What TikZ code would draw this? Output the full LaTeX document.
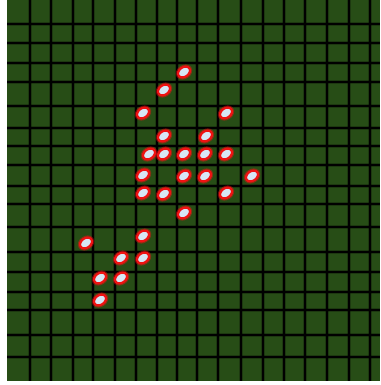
\documentclass[tikz,border=0pt]{standalone}
\usepackage{xcolor}
\definecolor{field}{RGB}{39,77,22}
\definecolor{cellred}{RGB}{240,18,18}
\definecolor{cellcore}{RGB}{215,230,245}
\usepackage{tikz}
\usetikzlibrary{shapes.geometric}
\tikzset{
  gridhalo/.style={draw=black, line width=3.2pt, opacity=0.25},
  gridcore/.style={draw=black, line width=1.3pt},
  livecell/.style={ellipse, minimum width=13pt, minimum height=9.5pt,
    inner sep=0pt, rotate=35, fill=cellcore, draw=cellred, line width=2.2pt,
    preaction={draw=cellred, line width=4.4pt, opacity=0.45}},
}

\begin{document}
\begin{tikzpicture}[x=1pt, y=-1pt]
\useasboundingbox (0,0) rectangle (380,385);
\fill[white] (0,0) rectangle (380,385);
% the board
\fill[field] (7,0) rectangle (380,381);
% grid lines (uneven, as in the scan)
\foreach \gx in {30,51,73,93,115,136,157,177,197,218,241,263,284,305,327,349,370}{
  \draw[gridhalo] (\gx,0) -- (\gx,381);
  \draw[gridcore] (\gx,0) -- (\gx,381);}
\foreach \gy in {24,43,63,82,106,128,146,165,186,204,227,252,272,292,310,335,357}{
  \draw[gridhalo] (7,\gy) -- (380,\gy);
  \draw[gridcore] (7,\gy) -- (380,\gy);}
% live cells
\node[livecell] (c1)  at (184,72)  {};
\node[livecell] (c2)  at (164,90)  {};
\node[livecell] (c3)  at (143,113) {};
\node[livecell] (c4)  at (226,113) {};
\node[livecell] (c5)  at (164,136) {};
\node[livecell] (c6)  at (206,136) {};
\node[livecell] (c7)  at (149,154) {};
\node[livecell] (c8)  at (164,154) {};
\node[livecell] (c9)  at (184,154) {};
\node[livecell] (c10) at (205,154) {};
\node[livecell] (c11) at (226,154) {};
\node[livecell] (c12) at (143,175) {};
\node[livecell] (c13) at (184,176) {};
\node[livecell] (c14) at (205,176) {};
\node[livecell] (c15) at (252,176) {};
\node[livecell] (c16) at (143,193) {};
\node[livecell] (c17) at (164,194) {};
\node[livecell] (c18) at (226,193) {};
\node[livecell] (c19) at (184,213) {};
\node[livecell] (c20) at (143,236) {};
\node[livecell] (c21) at (86,243)  {};
\node[livecell] (c22) at (121,258) {};
\node[livecell] (c23) at (143,258) {};
\node[livecell] (c24) at (100,278) {};
\node[livecell] (c25) at (121,278) {};
\node[livecell] (c26) at (100,300) {};
\end{tikzpicture}
\end{document}
